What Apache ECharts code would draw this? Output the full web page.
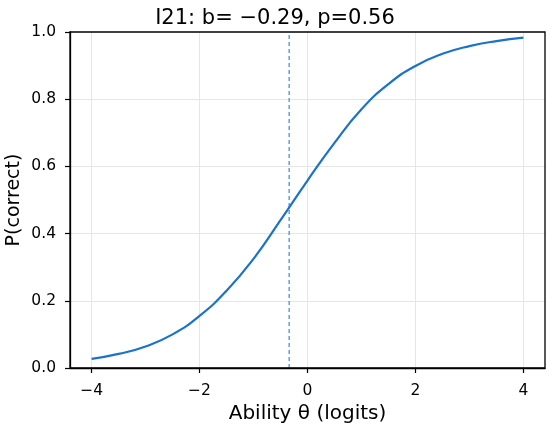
<!DOCTYPE html>
<html>
<head>
<meta charset="utf-8">
<script src="https://cdn.jsdelivr.net/npm/echarts@6/dist/echarts.min.js"></script>
<style>
  html, body { margin: 0; padding: 0; background: #fff; }
  #chart { width: 550px; height: 430px; }
</style>
</head>
<body>
<div id="chart"></div>
<script>
// ability values (logits) and P(correct)
var theta = [-4, -3.5, -3, -2.5, -2, -1.5, -1, -0.5, 0, 0.5, 1, 1.5, 2, 2.5, 3, 3.5, 4];
var pCorrect = [0.027, 0.042, 0.064, 0.100, 0.155, 0.230, 0.325, 0.440, 0.558, 0.670, 0.770, 0.845, 0.899, 0.935, 0.958, 0.973, 0.983];
var markerTheta = -0.34;
var titleText = "I21: b= \u22120.29, p=0.56";

var font = "DejaVu Sans";
var minus = function (v) { return String(v).replace("-", "\u2212"); };

var curve = theta.map(function (t, i) { return [t, pCorrect[i]]; });

var option = {
  backgroundColor: "#fff",
  animation: false,
  title: {
    text: titleText,
    left: "center",
    top: 3,
    textStyle: { fontFamily: font, fontSize: 21, fontWeight: "normal", color: "#000" },
  },
  grid: {
    left: 70, right: 5, top: 32, bottom: 62,
    outerBoundsMode: "none",
    show: true, borderColor: "#000", borderWidth: 1.3, z: 5,
  },
  xAxis: {
    type: "value",
    min: -4.4, max: 4.4,
    name: "Ability \u03b8 (logits)",
    nameLocation: "middle",
    nameGap: 35,
    nameTextStyle: { fontFamily: font, fontSize: 20, color: "#000" },
    axisLine: { onZero: false, lineStyle: { color: "#000", width: 1.3 } },
    axisTick: { show: true, length: 5, lineStyle: { color: "#000", width: 1.2 } },
    axisLabel: {
      fontFamily: font, fontSize: 15.5, color: "#000", margin: 15,
      showMinLabel: false, showMaxLabel: false,
      formatter: minus,
    },
    splitLine: { show: true, showMinLine: false, showMaxLine: false, lineStyle: { color: "#e6e6e6", width: 1 } },
  },
  yAxis: {
    type: "value",
    min: 0, max: 1, interval: 0.2,
    name: "P(correct)",
    nameLocation: "middle",
    nameGap: 46,
    nameMoveOverlap: false,
    nameTextStyle: { fontFamily: font, fontSize: 19, color: "#000" },
    axisLine: { show: true, onZero: false, lineStyle: { color: "#000", width: 1.3 } },
    axisTick: { show: true, length: 5, lineStyle: { color: "#000", width: 1.2 } },
    axisLabel: {
      fontFamily: font, fontSize: 15.5, color: "#000", margin: 14,
      formatter: function (v) { return v.toFixed(1); },
    },
    splitLine: { show: true, showMinLine: false, showMaxLine: false, lineStyle: { color: "#e6e6e6", width: 1 } },
  },
  series: [
    {
      // dashed marker at the item location
      type: "line",
      data: [[markerTheta, 0], [markerTheta, 1]],
      showSymbol: false,
      silent: true,
      lineStyle: { color: "#2f88e6", type: [4, 3], width: 1.2 },
    },
    {
      type: "line",
      data: curve,
      smooth: 0.5,
      showSymbol: false,
      lineStyle: { color: "#1a73c9", width: 2.2 },
    },
  ],
};

var myChart = echarts.init(document.getElementById("chart"));
myChart.setOption(option);
</script>
</body>
</html>
